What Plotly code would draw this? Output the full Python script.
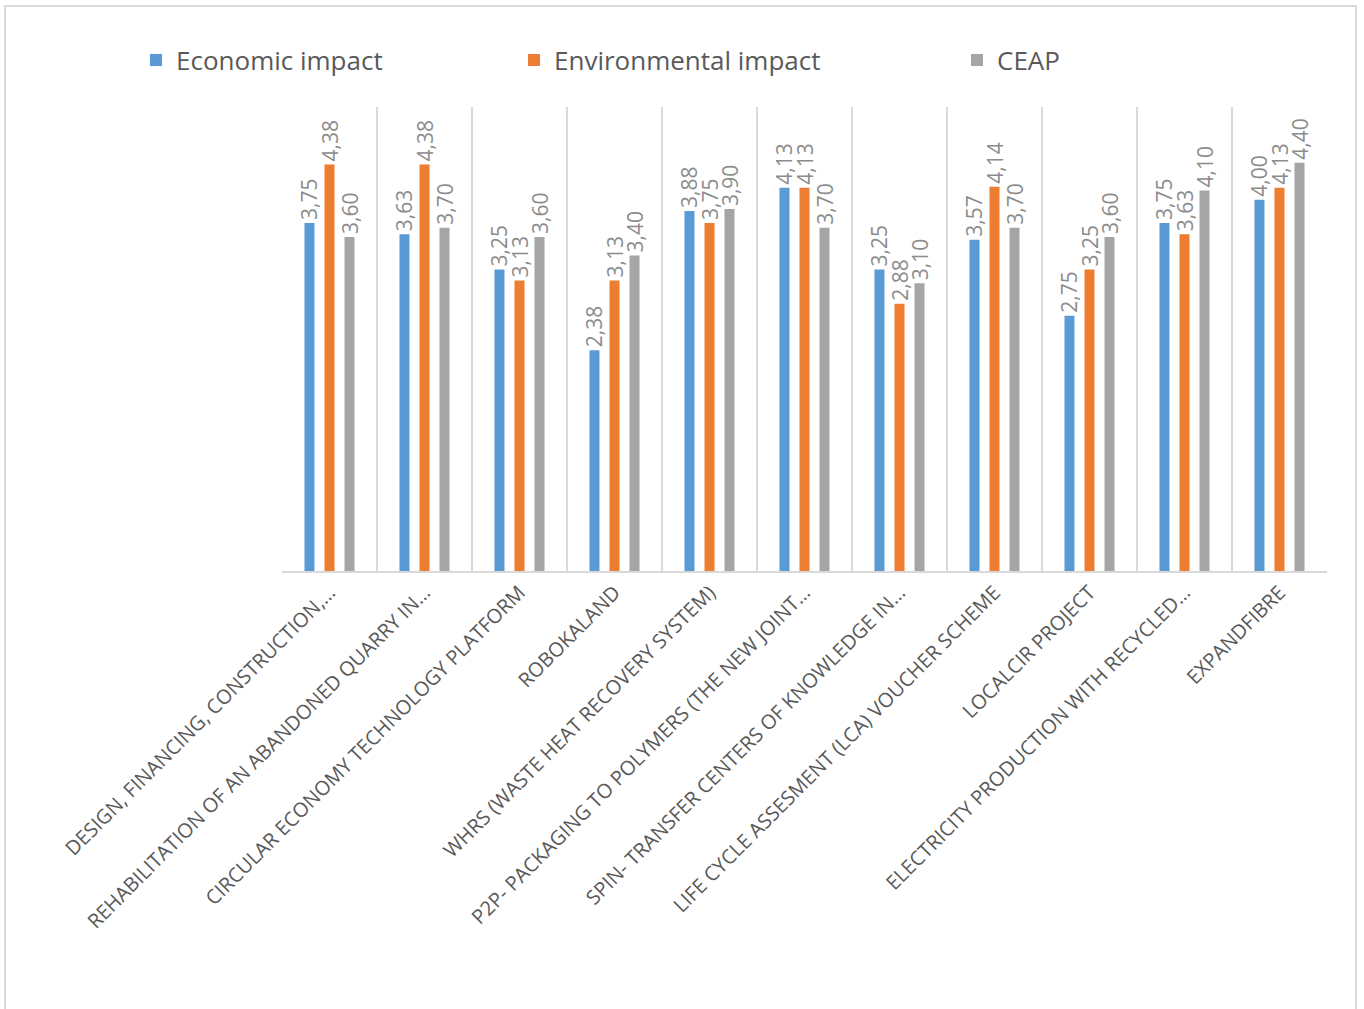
import plotly.graph_objects as go

categories = [
    "DESIGN, FINANCING, CONSTRUCTION,…",
    "REHABILITATION OF AN ABANDONED QUARRY IN…",
    "CIRCULAR ECONOMY TECHNOLOGY PLATFORM",
    "ROBOKALAND",
    "WHRS (WASTE HEAT RECOVERY SYSTEM)",
    "P2P- PACKAGING TO POLYMERS (THE NEW JOINT…",
    "SPIN- TRANSFER CENTERS OF KNOWLEDGE IN…",
    "LIFE CYCLE ASSESMENT (LCA) VOUCHER SCHEME",
    "LOCALCIR PROJECT",
    "ELECTRICITY PRODUCTION WITH RECYCLED…",
    "EXPANDFIBRE",
]
economic = [3.75, 3.63, 3.25, 2.38, 3.88, 4.13, 3.25, 3.57, 2.75, 3.75, 4.00]
environmental = [4.38, 4.38, 3.13, 3.13, 3.75, 4.13, 2.88, 4.14, 3.25, 3.63, 4.13]
ceap = [3.60, 3.70, 3.60, 3.40, 3.90, 3.70, 3.10, 3.70, 3.60, 4.10, 4.40]

series = [
    ("Economic impact", economic, "#5B9BD5", "legend"),
    ("Environmental impact", environmental, "#ED7D31", "legend2"),
    ("CEAP", ceap, "#A5A5A5", "legend3"),
]

def fmt(v):
    return f"{v:.2f}".replace(".", ",")

fig = go.Figure()
for name, vals, color, lg in series:
    fig.add_trace(go.Bar(
        x=categories, y=vals, name=name,
        marker=dict(color=color, line=dict(width=0)),
        text=[fmt(v) for v in vals],
        textposition="outside",
        textangle=-90,
        constraintext="none",
        cliponaxis=False,
        textfont=dict(family="Open Sans", size=21, color="#8C8C8C"),
        legend=lg,
        showlegend=True,
    ))

L, R, T, B = 282, 37, 107, 438
W, H = 1364, 1009
pw = W - L - R
ph = H - T - B

def px_x(px):
    return (px - L) / pw

def px_y(py):
    return (H - B - py) / ph

legend_font = dict(family="Open Sans", size=26, color="#595959")
legend_common = dict(orientation="h", yanchor="middle", xanchor="left",
                     xref="container", yref="container",
                     y=1 - 60 / H,
                     font=legend_font, bgcolor="rgba(0,0,0,0)", borderwidth=0)

fig.update_layout(
    width=W, height=H,
    showlegend=True,
    margin=dict(l=L, r=R, t=T, b=B, autoexpand=False),
    paper_bgcolor="white", plot_bgcolor="white",
    barmode="group", bargap=0.368, bargroupgap=0.5,
    font=dict(family="Open Sans", color="#595959"),
    legend=dict(x=136 / W, **legend_common),
    legend2=dict(x=514 / W, **legend_common),
    legend3=dict(x=957 / W, **legend_common),
    xaxis=dict(
        type="category",
        tickson="boundaries",
        showgrid=True, gridcolor="#D9D9D9", gridwidth=2,
        showline=True, linecolor="#D9D9D9", linewidth=2,
        ticks="", tickangle=-45,
        tickfont=dict(family="Open Sans", size=20, color="#595959"),
        range=[-0.5, len(categories) - 0.5],
    ),
    yaxis=dict(visible=False, range=[0, 5], showgrid=False, zeroline=False),
    shapes=[dict(type="rect", xref="paper", yref="paper",
                 x0=px_x(5), x1=px_x(1356), y0=px_y(1030), y1=px_y(6),
                 line=dict(color="#D9D9D9", width=2), fillcolor="rgba(0,0,0,0)",
                 layer="below")],
)

fig.write_html("out.html")
